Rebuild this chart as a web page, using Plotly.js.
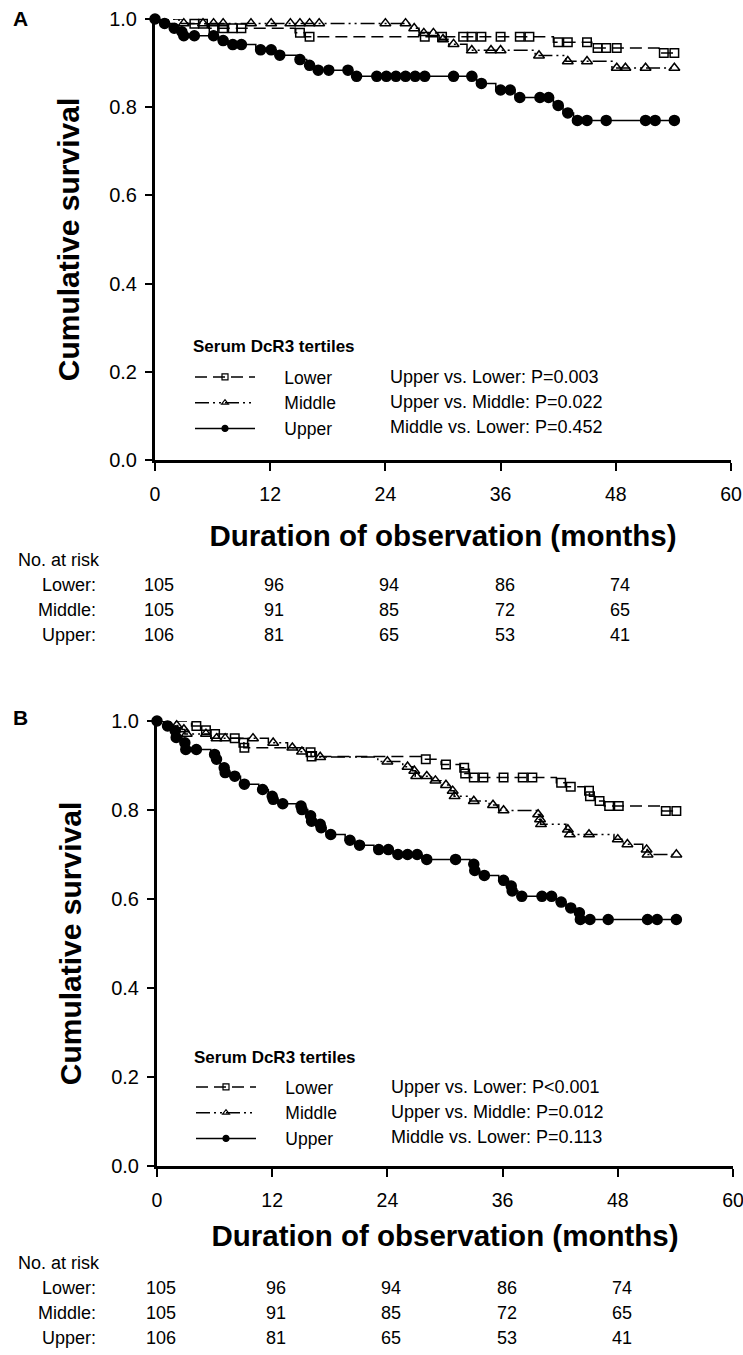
<!DOCTYPE html>
<html><head><meta charset="utf-8">
<script src="https://cdn.plot.ly/plotly-3.0.1.min.js"></script>
<style>html,body{margin:0;padding:0;background:#fff}</style>
</head><body>
<div id="chart" style="width:743px;height:1355px"></div>
<script>
// ---------- DATA ----------
const tickMonths = [0, 12, 24, 36, 48, 60];
const riskMonths = [0, 12, 24, 36, 48];
const groupNames = ['Lower', 'Middle', 'Upper'];
const riskLower = [105, 96, 94, 86, 74];
const riskMiddle = [105, 91, 85, 72, 65];
const riskUpper = [106, 81, 65, 53, 41];
const legendTitle = 'Serum DcR3 tertiles';
const pTextsA = ['Upper vs. Lower: P=0.003', 'Upper vs. Middle: P=0.022', 'Middle vs. Lower: P=0.452'];
const pTextsB = ['Upper vs. Lower: P<0.001', 'Upper vs. Middle: P=0.012', 'Middle vs. Lower: P=0.113'];

// Panel A - Lower
const aLowerEventT = [3.4, 5.6, 14.6, 15.6, 41.5, 45.5, 52.5];
const aLowerEventS = [0.989, 0.979, 0.969, 0.960, 0.947, 0.934, 0.923];
const aLowerCensT = [4.1, 5.0, 6.1, 7.1, 8.1, 9.0, 15.1, 16.1, 28.1, 29.9, 32.1, 33.0, 34.0, 36.0, 38.0, 39.0, 42.0, 43.0, 45.0, 46.1, 47.0, 48.1, 53.0, 54.1];
const aLowerCensS = [0.989, 0.989, 0.979, 0.979, 0.979, 0.979, 0.969, 0.960, 0.960, 0.960, 0.960, 0.960, 0.960, 0.960, 0.960, 0.960, 0.947, 0.947, 0.947, 0.934, 0.934, 0.934, 0.923, 0.923];
// Panel A - Middle
const aMiddleEventT = [2.5, 26.5, 27.5, 29.6, 30.6, 32.5, 39.6, 42.8, 47.6];
const aMiddleEventS = [0.990, 0.979, 0.968, 0.954, 0.943, 0.929, 0.917, 0.904, 0.889];
const aMiddleCensT = [3.0, 5.0, 6.1, 7.1, 10.0, 12.1, 14.1, 15.1, 16.1, 17.1, 24.0, 26.1, 27.0, 28.0, 29.0, 30.0, 31.1, 33.0, 35.0, 36.0, 40.0, 43.0, 45.0, 48.1, 49.0, 51.1, 54.1];
const aMiddleCensS = [0.990, 0.990, 0.990, 0.990, 0.990, 0.990, 0.990, 0.990, 0.990, 0.990, 0.990, 0.990, 0.979, 0.968, 0.968, 0.954, 0.943, 0.929, 0.929, 0.929, 0.917, 0.904, 0.904, 0.889, 0.889, 0.889, 0.889];
// Panel A - Upper
const aUpperEventT = [0.8, 1.8, 2.7, 2.9, 6.6, 7.6, 10.5, 12.6, 14.8, 15.8, 16.6, 20.6, 33.5, 35.5, 37.5, 41.5, 42.5, 43.6];
const aUpperEventS = [0.990, 0.979, 0.971, 0.962, 0.951, 0.942, 0.930, 0.918, 0.908, 0.895, 0.884, 0.870, 0.854, 0.839, 0.822, 0.804, 0.787, 0.770];
const aUpperCensT = [0, 1.0, 2.0, 2.8, 3.0, 4.1, 6.1, 7.1, 8.1, 9.0, 11.0, 12.1, 13.0, 15.1, 16.1, 17.0, 18.1, 20.1, 21.0, 23.1, 24.1, 25.1, 26.1, 27.1, 28.1, 31.1, 33.0, 34.0, 36.0, 37.0, 38.0, 40.1, 41.0, 42.0, 43.0, 44.0, 45.0, 47.0, 51.1, 52.1, 54.1];
const aUpperCensS = [1.0, 0.990, 0.979, 0.971, 0.962, 0.962, 0.962, 0.951, 0.942, 0.942, 0.930, 0.930, 0.918, 0.908, 0.895, 0.884, 0.884, 0.884, 0.870, 0.870, 0.870, 0.870, 0.870, 0.870, 0.870, 0.870, 0.870, 0.854, 0.839, 0.839, 0.822, 0.822, 0.822, 0.804, 0.787, 0.770, 0.770, 0.770, 0.770, 0.770, 0.770];

// Panel B - Lower
const bLowerEventT = [3.6, 4.6, 5.6, 7.6, 8.6, 9.05, 15.6, 16.05, 27.6, 29.6, 31.6, 32.05, 32.6, 41.6, 42.6, 44.6, 45.05, 45.6, 46.6, 52.6];
const bLowerEventS = [0.989, 0.979, 0.971, 0.961, 0.951, 0.940, 0.930, 0.920, 0.914, 0.902, 0.895, 0.882, 0.873, 0.861, 0.852, 0.843, 0.831, 0.820, 0.809, 0.798];
const bLowerCensT = [4.1, 5.1, 6.05, 8.1, 9.0, 9.1, 16.0, 16.1, 28.0, 30.1, 32.0, 32.1, 33.0, 34.0, 36.1, 38.1, 39.1, 42.1, 43.1, 45.0, 45.1, 46.1, 47.1, 48.1, 53.0, 54.1];
const bLowerCensS = [0.989, 0.979, 0.971, 0.961, 0.951, 0.940, 0.930, 0.920, 0.914, 0.902, 0.895, 0.882, 0.873, 0.873, 0.873, 0.873, 0.873, 0.861, 0.852, 0.843, 0.831, 0.820, 0.809, 0.809, 0.798, 0.798];
// Panel B - Middle
const bMiddleEventT = [1.5, 2.6, 2.9, 5.6, 11.6, 13.6, 14.6, 16.6, 23.0, 25.6, 26.6, 26.9, 28.6, 29.6, 30.6, 30.95, 32.6, 34.6, 35.6, 39.6, 39.8, 39.95, 42.6, 42.95, 47.6, 48.6, 50.6, 51.05];
const bMiddleEventS = [0.990, 0.981, 0.971, 0.961, 0.951, 0.940, 0.931, 0.919, 0.909, 0.897, 0.888, 0.876, 0.866, 0.856, 0.843, 0.831, 0.820, 0.811, 0.799, 0.790, 0.779, 0.768, 0.756, 0.745, 0.734, 0.723, 0.711, 0.700];
const bMiddleCensT = [2.05, 2.8, 3.1, 5.1, 6.2, 7.1, 10.0, 12.1, 14.1, 15.1, 17.0, 24.0, 26.1, 26.8, 27.0, 28.1, 29.0, 30.1, 30.8, 31.0, 33.0, 35.0, 36.1, 39.7, 39.9, 40.0, 42.8, 43.0, 45.0, 48.0, 49.0, 51.0, 51.1, 54.1];
const bMiddleCensS = [0.990, 0.981, 0.971, 0.971, 0.961, 0.961, 0.961, 0.951, 0.940, 0.931, 0.919, 0.909, 0.897, 0.888, 0.876, 0.876, 0.866, 0.856, 0.843, 0.831, 0.820, 0.811, 0.799, 0.790, 0.779, 0.768, 0.756, 0.745, 0.745, 0.734, 0.723, 0.711, 0.700, 0.700];
// Panel B - Upper
const bUpperEventT = [0.7, 1.7, 1.95, 2.6, 2.95, 5.6, 6.1, 6.6, 7.05, 7.6, 8.7, 10.6, 11.6, 12.05, 12.6, 14.6, 15.05, 15.7, 16.05, 16.6, 17.05, 17.6, 19.6, 20.6, 22.6, 24.6, 27.6, 32.6, 33.05, 33.6, 35.6, 36.6, 36.95, 37.6, 41.6, 42.6, 43.6, 44.05];
const bUpperEventS = [0.989, 0.978, 0.963, 0.951, 0.936, 0.925, 0.914, 0.895, 0.884, 0.876, 0.858, 0.846, 0.831, 0.824, 0.814, 0.809, 0.801, 0.787, 0.775, 0.768, 0.760, 0.745, 0.732, 0.721, 0.711, 0.700, 0.689, 0.678, 0.664, 0.653, 0.642, 0.629, 0.618, 0.606, 0.593, 0.580, 0.569, 0.554];
const bUpperCensT = [0, 1.1, 1.9, 2.0, 2.9, 3.0, 4.1, 6.0, 6.2, 7.0, 7.1, 8.1, 9.1, 11.0, 12.0, 12.1, 13.1, 15.0, 15.1, 16.0, 16.1, 17.0, 17.1, 18.1, 20.1, 21.1, 23.1, 24.1, 25.1, 26.1, 27.1, 28.1, 31.1, 33.0, 33.1, 34.1, 36.1, 36.9, 37.0, 38.0, 40.1, 41.1, 42.1, 43.1, 44.0, 44.1, 45.1, 47.0, 51.1, 52.1, 54.1];
const bUpperCensS = [1.0, 0.989, 0.978, 0.963, 0.951, 0.936, 0.936, 0.925, 0.914, 0.895, 0.884, 0.876, 0.858, 0.846, 0.831, 0.824, 0.814, 0.809, 0.801, 0.787, 0.775, 0.768, 0.760, 0.745, 0.732, 0.721, 0.711, 0.711, 0.700, 0.700, 0.700, 0.689, 0.689, 0.678, 0.664, 0.653, 0.642, 0.629, 0.618, 0.606, 0.606, 0.606, 0.593, 0.580, 0.569, 0.554, 0.554, 0.554, 0.554, 0.554, 0.554];

// ---------- STYLE / BUILD ----------
const FONT = 'Liberation Sans, Arial, Helvetica, sans-serif';
const W = 743, H = 1355;
const px = v => v / W;
const py = v => 1 - v / H;
const NB = '\u00A0\u00A0\u00A0\u00A0\u00A0';

const styles = {
  Lower:  {dash: '12px,6px', symbol: 'square-open', size: 8.5, lw: 1.5},
  Middle: {dash: '14px,4px,2px,4px,2px,4px', symbol: 'triangle-up-open', size: 9.5, lw: 1.5},
  Upper:  {dash: 'solid', symbol: 'circle', size: 10, lw: 1.5}
};

const panels = [
  {xa: 'x', ya: 'y', legend: 'legend', series: {
    Lower:  [aLowerEventT, aLowerEventS, aLowerCensT, aLowerCensS],
    Middle: [aMiddleEventT, aMiddleEventS, aMiddleCensT, aMiddleCensS],
    Upper:  [aUpperEventT, aUpperEventS, aUpperCensT, aUpperCensS]}},
  {xa: 'x2', ya: 'y2', legend: 'legend2', series: {
    Lower:  [bLowerEventT, bLowerEventS, bLowerCensT, bLowerCensS],
    Middle: [bMiddleEventT, bMiddleEventS, bMiddleCensT, bMiddleCensS],
    Upper:  [bUpperEventT, bUpperEventS, bUpperCensT, bUpperCensS]}}
];

const traces = [];
panels.forEach(p => {
  groupNames.forEach(g => {
    const [et, es, ct, cs] = p.series[g];
    const st = styles[g];
    const endT = Math.max.apply(null, ct);
    traces.push({
      type: 'scatter', mode: 'lines', xaxis: p.xa, yaxis: p.ya, showlegend: false,
      x: [0].concat(et, [endT]), y: [1].concat(es, [es[es.length - 1]]),
      line: {shape: 'hv', color: '#000', width: st.lw, dash: st.dash},
      cliponaxis: false, hoverinfo: 'skip'
    });
    traces.push({
      type: 'scatter', mode: 'markers', xaxis: p.xa, yaxis: p.ya, showlegend: false,
      x: ct, y: cs,
      marker: {symbol: st.symbol, size: st.size, color: '#000', line: {color: '#000', width: 1.5}},
      cliponaxis: false, hoverinfo: 'skip'
    });
    traces.push({
      type: 'scatter', mode: 'lines+markers', xaxis: p.xa, yaxis: p.ya,
      legend: p.legend, name: NB + g,
      x: [null], y: [null],
      line: {color: '#000', width: st.lw, dash: st.dash},
      marker: {symbol: st.symbol, size: 6, color: '#000', line: {color: '#000', width: 1.2}}
    });
  });
});

function xAxis(domain, anchor, standoff) {
  return {
    domain: domain, anchor: anchor, range: [0, 60], tickvals: tickMonths,
    showline: true, linewidth: 3, linecolor: '#000', mirror: false,
    ticks: 'outside', ticklen: 8, tickwidth: 2, tickcolor: '#000',
    ticklabelstandoff: 7, ticklabeloverflow: 'allow',
    showgrid: false, zeroline: false, fixedrange: true,
    tickfont: {family: FONT, size: 19.5, color: '#000'},
    title: {text: 'Duration of observation (months)', standoff: standoff,
            font: {family: FONT, size: 29.5, color: '#000', weight: 'bold'}}
  };
}
function yAxis(domain, anchor) {
  return {
    domain: domain, anchor: anchor, range: [0, 1], dtick: 0.2, tick0: 0, tickformat: '.1f',
    showline: true, linewidth: 3, linecolor: '#000',
    ticks: 'outside', ticklen: 7, tickwidth: 2, tickcolor: '#000', ticklabelstandoff: 4,
    showgrid: false, zeroline: false, fixedrange: true,
    tickfont: {family: FONT, size: 20, color: '#000'},
    title: {text: 'Cumulative survival', standoff: 21,
            font: {family: FONT, size: 30, color: '#000', weight: 'bold'}}
  };
}
function legendCfg(left, top) {
  return {
    x: px(left), y: py(top), xanchor: 'left', yanchor: 'top',
    bgcolor: 'rgba(0,0,0,0)', borderwidth: 0, itemwidth: 60,
    tracegroupgap: 0, traceorder: 'normal',
    font: {family: FONT, size: 17.5, color: '#000'}
  };
}

const annotations = [];
function txt(x, y, text, opts) {
  annotations.push(Object.assign({x: x, y: y, xref: 'paper', yref: 'paper', text: text,
    showarrow: false, xanchor: 'left', yanchor: 'middle',
    font: {family: FONT, size: 17, color: '#000'}}, opts || {}));
}
txt(px(11), py(18), 'A', {font: {family: FONT, size: 21, color: '#000', weight: 'bold'}});
txt(px(11), py(717), 'B', {font: {family: FONT, size: 21, color: '#000', weight: 'bold'}});

const legRowsA = [377, 402, 427], legRowsB = [1087, 1112, 1137];
txt(px(191), py(346), legendTitle, {font: {family: FONT, size: 17, color: '#000', weight: 'bold'}});
txt(px(192), py(1057), legendTitle, {font: {family: FONT, size: 17, color: '#000', weight: 'bold'}});
pTextsA.forEach((t, i) => txt(px(388), py(legRowsA[i]), t, {font: {family: FONT, size: 18, color: '#000'}}));
pTextsB.forEach((t, i) => txt(px(389), py(legRowsB[i]), t, {font: {family: FONT, size: 18, color: '#000'}}));

const riskSets = [riskLower, riskMiddle, riskUpper];
[{xref: 'x', top: 560}, {xref: 'x2', top: 1263}].forEach(r => {
  txt(px(16), py(r.top), 'No. at risk', {font: {family: FONT, size: 18, color: '#000'}});
  groupNames.forEach((g, i) => {
    const yy = py(r.top + 25 * (i + 1));
    txt(px(98), yy, g + ':', {xanchor: 'right', font: {family: FONT, size: 18, color: '#000'}});
    riskMonths.forEach((m, j) => {
      annotations.push({x: m, y: yy, xref: r.xref, yref: 'paper', text: String(riskSets[i][j]),
        showarrow: false, xanchor: 'center', yanchor: 'middle', xshift: 4,
        font: {family: FONT, size: 18, color: '#000'}});
    });
  });
});

const layout = {
  width: W, height: H, margin: {l: 0, r: 0, t: 0, b: 0, pad: 0},
  paper_bgcolor: '#fff', plot_bgcolor: '#fff',
  font: {family: FONT, color: '#000', size: 17},
  xaxis: xAxis([px(155), px(731)], 'y', 21),
  yaxis: yAxis([py(460), py(19)], 'x'),
  xaxis2: xAxis([px(157), px(733)], 'y2', 15),
  yaxis2: yAxis([py(1166), py(721)], 'x2'),
  legend: legendCfg(190, 359),
  legend2: legendCfg(191, 1069),
  annotations: annotations
};

Plotly.newPlot('chart', traces, layout, {staticPlot: true, displayModeBar: false});
</script>
</body></html>
